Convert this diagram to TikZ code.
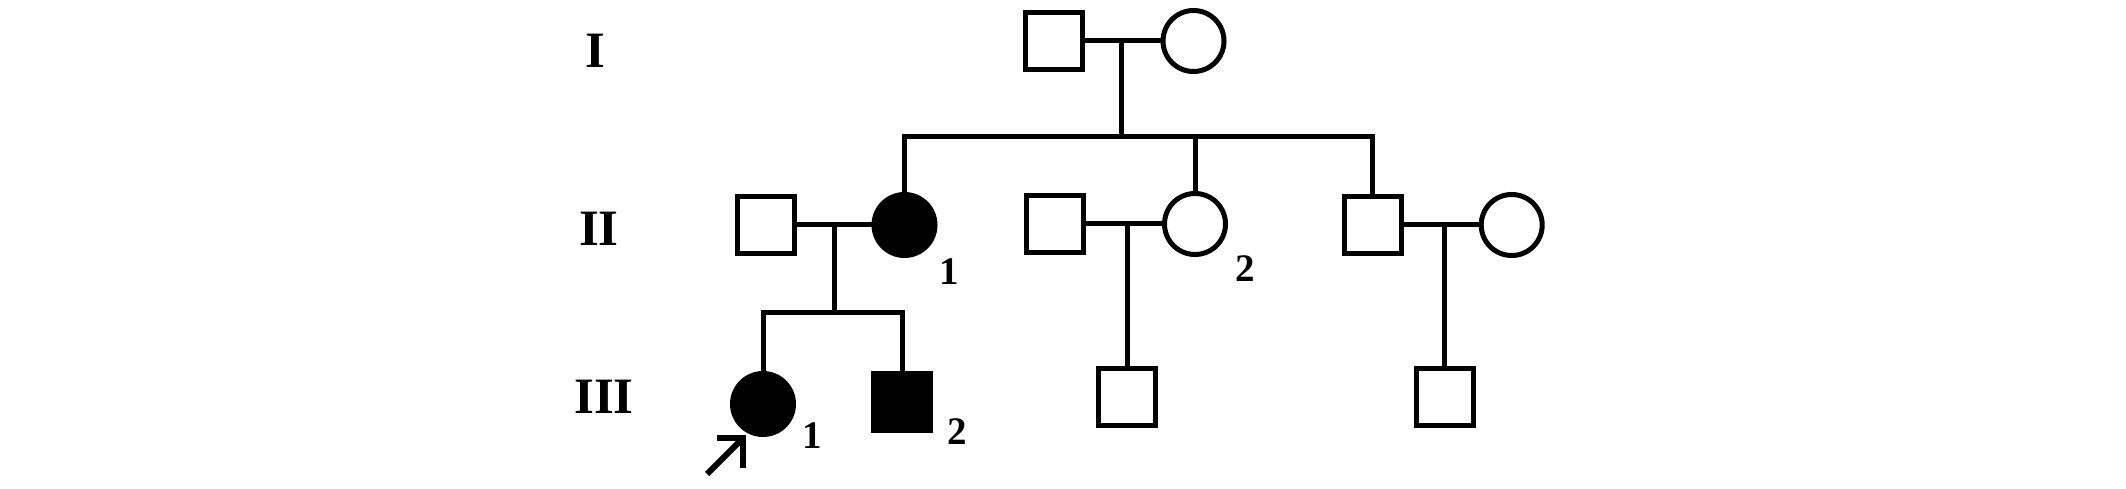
\documentclass[tikz,border=0pt]{standalone}
\usepackage{fontspec}
\setmainfont{Liberation Serif}
\begin{document}
\begin{tikzpicture}[x=1pt,y=-1pt,
  lw/.style={line width=5pt,line cap=rect},
  male/.style={draw,rectangle,line width=5pt,minimum size=57pt,inner sep=0pt},
  female/.style={draw,circle,line width=5pt,minimum size=61pt,inner sep=0pt},
  aff/.style={fill=black},
  gen/.style={font=\bfseries\fontsize{51}{51}\selectfont,inner sep=0pt},
  num/.style={font=\bfseries\fontsize{39}{39}\selectfont,inner sep=0pt}]
\useasboundingbox[fill=white] (0,0) rectangle (2126,489);

% generation labels
\node[gen] (gI) at (595,51) {I};
\node[gen] (gII) at (599,229) {II};
\node[gen] (gIII) at (604,397) {III};

% generation I
\node[male] (I1) at (1054,41) {};
\node[female] (I2) at (1193.5,41) {};

% generation II
\node[male] (H1) at (766,225) {};
\node[female,aff] (II1) at (904.5,225) {};
\node[male] (H2) at (1054.5,224) {};
\node[female] (II2) at (1195,224) {};
\node[male] (II3) at (1372.5,225) {};
\node[female] (W3) at (1511.7,225) {};

% generation III
\node[female,aff] (III1) at (763,404) {};
\node[male,aff] (III2) at (902,402) {};
\node[male] (S1) at (1127,397) {};
\node[male] (S2) at (1444.5,397) {};

% numbers
\node[num] (n1) at (949.5,272) {1};
\node[num] (n2) at (1245,268.5) {2};
\node[num] (n3) at (812,436) {1};
\node[num] (n4) at (957,432) {2};

% connectors
\coordinate (m1) at (1121,41);
\coordinate (sib1) at (1121,137);
\draw[lw] (I1) -- (I2);
\draw[lw] (m1) -- (sib1);
\draw[lw] (II1.north |- sib1) -- (II3.north |- sib1);
\draw[lw] (II1.north |- sib1) -- (II1.north);
\draw[lw] (II2.north |- sib1) -- (II2.north);
\draw[lw] (II3.north |- sib1) -- (II3.north);

\coordinate (m2) at (834,225);
\coordinate (sib2) at (834,312);
\draw[lw] (H1) -- (II1);
\draw[lw] (m2) -- (sib2);
\draw[lw] (III1.north |- sib2) -- (III2.north |- sib2);
\draw[lw] (III1.north |- sib2) -- (III1.north);
\draw[lw] (III2.north |- sib2) -- (III2.north);

\coordinate (m3) at (1127,224);
\draw[lw] (H2) -- (II2);
\draw[lw] (m3) -- (S1.north);

\coordinate (m4) at (1444.5,225);
\draw[lw] (II3) -- (W3);
\draw[lw] (m4) -- (S2.north);

% proband arrow
\coordinate (tip) at (743,438);
\coordinate (tail) at (707,474);
\draw[line width=6pt] (tail) -- (tip);
\draw[line width=6pt,miter limit=10] ([xshift=-26pt]tip) -- (tip) -- ([yshift=-30pt]tip);
\end{tikzpicture}
\end{document}
